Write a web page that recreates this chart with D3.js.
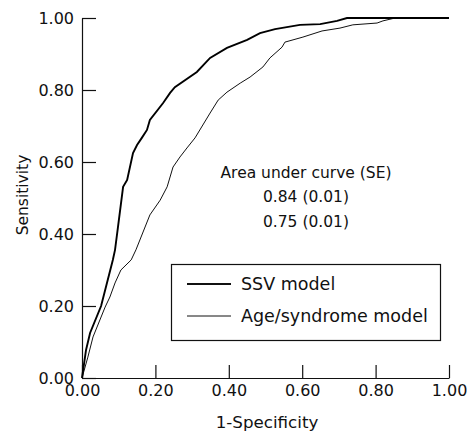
<!DOCTYPE html>
<html>
<head>
<meta charset="utf-8">
<script src="https://cdn.jsdelivr.net/npm/d3@7"></script>
<style>
  html, body { margin: 0; padding: 0; background: #fff; }
  svg text { font-family: "DejaVu Sans", sans-serif; fill: #111; }
</style>
</head>
<body>
<svg id="chart" width="470" height="434"></svg>
<script>
// ROC curve for the SSV model (1-specificity, sensitivity)
const ssvX = [0, 0.011, 0.022, 0.052, 0.084, 0.09, 0.098, 0.112, 0.123, 0.139, 0.150, 0.163, 0.177, 0.185, 0.221, 0.240, 0.253, 0.313, 0.349, 0.395, 0.450, 0.485, 0.526, 0.594, 0.649, 0.695, 0.722, 1.0];
const ssvY = [0, 0.078, 0.125, 0.200, 0.328, 0.356, 0.419, 0.531, 0.550, 0.625, 0.647, 0.667, 0.689, 0.717, 0.764, 0.792, 0.808, 0.850, 0.889, 0.917, 0.939, 0.958, 0.969, 0.981, 0.983, 0.992, 1.0, 1.0];
// ROC curve for the Age/syndrome model
const ageX = [0, 0.016, 0.030, 0.063, 0.076, 0.090, 0.106, 0.134, 0.147, 0.185, 0.213, 0.232, 0.248, 0.267, 0.286, 0.308, 0.349, 0.371, 0.395, 0.431, 0.458, 0.493, 0.512, 0.545, 0.553, 0.602, 0.654, 0.703, 0.738, 0.804, 0.820, 0.853, 1.0];
const ageY = [0, 0.058, 0.114, 0.197, 0.225, 0.264, 0.300, 0.328, 0.356, 0.453, 0.494, 0.531, 0.586, 0.614, 0.639, 0.667, 0.736, 0.772, 0.794, 0.819, 0.836, 0.864, 0.889, 0.919, 0.933, 0.947, 0.964, 0.972, 0.981, 0.986, 0.992, 1.0, 1.0];

const tickValues = [0, 0.2, 0.4, 0.6, 0.8, 1.0];
const seriesNames = ["SSV model", "Age/syndrome model"];
const aucLines = ["Area under curve (SE)", "0.84 (0.01)", "0.75 (0.01)"];
const xTitle = "1-Specificity";
const yTitle = "Sensitivity";

const svg = d3.select("#chart");
const x = d3.scaleLinear().domain([0, 1]).range([82, 449]);
const y = d3.scaleLinear().domain([0, 1]).range([378, 18]);
const fmt = d3.format(".2f");

// axes
const xAxis = d3.axisBottom(x).tickValues(tickValues).tickFormat(fmt).tickSizeInner(-13).tickSizeOuter(0).tickPadding(7);
const yAxis = d3.axisLeft(y).tickValues(tickValues).tickFormat(fmt).tickSizeInner(-14).tickSizeOuter(0).tickPadding(8);

const gx = svg.append("g").attr("transform", "translate(0,378)").call(xAxis);
const gy = svg.append("g").attr("transform", "translate(82,0)").call(yAxis);
[gx, gy].forEach(g => {
  g.select(".domain").attr("stroke", "#111").attr("stroke-width", 1.2);
  g.selectAll(".tick line").attr("stroke", "#111").attr("stroke-width", 1.2);
  g.selectAll(".tick text").attr("font-size", 16).attr("fill", "#111")
    .style("font-family", "'DejaVu Sans', sans-serif");
});

// axis titles
svg.append("text").attr("x", 267).attr("y", 428).attr("text-anchor", "middle")
  .attr("font-size", 16.7).text(xTitle);
svg.append("text").attr("transform", "translate(28,195) rotate(-90)")
  .attr("text-anchor", "middle").attr("font-size", 15.5).text(yTitle);

// curves
const line = d3.line().x(d => x(d[0])).y(d => y(d[1]));
const ssv = d3.zip(ssvX, ssvY);
const age = d3.zip(ageX, ageY);
svg.append("path").datum(age).attr("d", line).attr("fill", "none")
  .attr("stroke", "#111").attr("stroke-width", 1);
svg.append("path").datum(ssv).attr("d", line).attr("fill", "none")
  .attr("stroke", "#000").attr("stroke-width", 1.9);

// AUC annotation
const aucY = [178, 202, 227];
aucLines.forEach((t, i) => {
  svg.append("text").attr("x", 306).attr("y", aucY[i]).attr("text-anchor", "middle")
    .attr("font-size", 15.5).text(t);
});

// legend
const lg = svg.append("g");
lg.append("rect").attr("x", 171.5).attr("y", 264.5).attr("width", 269).attr("height", 76)
  .attr("fill", "#fff").attr("stroke", "#111").attr("stroke-width", 1.2);
const legY = [284, 316];
const legW = [1.9, 1];
seriesNames.forEach((n, i) => {
  lg.append("line").attr("x1", 187).attr("x2", 231).attr("y1", legY[i]).attr("y2", legY[i])
    .attr("stroke", "#111").attr("stroke-width", legW[i]);
  lg.append("text").attr("x", 241).attr("y", legY[i]).attr("dy", "0.35em")
    .attr("font-size", 17.5).text(n);
});
</script>
</body>
</html>
